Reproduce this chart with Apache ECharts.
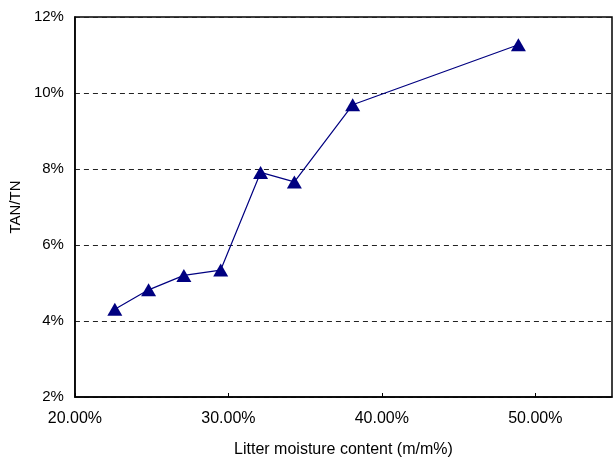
<!DOCTYPE html>
<html>
<head>
<meta charset="utf-8">
<script src="https://cdn.jsdelivr.net/npm/echarts@6/dist/echarts.min.js"></script>
<style>
  html, body { margin: 0; padding: 0; background: #fff; }
  #main { width: 613px; height: 463px; }
</style>
</head>
<body>
<div id="main"></div>
<script>
// moisture content (fraction) and TAN/TN ratio (fraction)
var moisture = [0.226, 0.248, 0.271, 0.295, 0.321, 0.343, 0.381, 0.489];
var tanTn = [0.0431, 0.0482, 0.0520, 0.0534, 0.0791, 0.0766, 0.0969, 0.1127];

var points = moisture.map(function (x, i) { return [x, tanTn[i]]; });

var chart = echarts.init(document.getElementById('main'));
chart.setOption({
  animation: false,
  textStyle: { fontFamily: 'Liberation Sans, Arial, sans-serif' },
  grid: {
    left: 74, right: 1, top: 17, bottom: 65,
    show: true,
    borderColor: '#000',
    borderWidth: 1.5
  },
  xAxis: {
    type: 'value',
    min: 0.2,
    max: 0.55,
    interval: 0.1,
    name: 'Litter moisture content (m/m%)',
    nameLocation: 'middle',
    nameGap: 45,
    nameTextStyle: { color: '#000', fontSize: 16 },
    axisLine: { lineStyle: { color: '#000', width: 1.5 } },
    axisTick: { inside: true, length: 4, lineStyle: { color: '#000' } },
    axisLabel: {
      color: '#000', fontSize: 16, margin: 14, showMaxLabel: false,
      formatter: function (v) { return (v * 100).toFixed(2) + '%'; }
    },
    splitLine: { show: false }
  },
  yAxis: {
    type: 'value',
    min: 0.02,
    max: 0.12,
    interval: 0.02,
    name: 'TAN/TN',
    nameLocation: 'middle',
    nameGap: 48,
    nameTextStyle: { color: '#000', fontSize: 15 },
    axisLine: { lineStyle: { color: '#000', width: 1.5 } },
    axisTick: { show: false },
    axisLabel: {
      color: '#000', fontSize: 15, margin: 11,
      formatter: function (v) { return Math.round(v * 100) + '%'; }
    },
    splitLine: { show: true, lineStyle: { color: '#222', type: [5, 4], width: 1.2 } }
  },
  series: [{
    type: 'line',
    data: points,
    symbol: 'triangle',
    symbolSize: [15, 13],
    lineStyle: { color: '#000080', width: 1.2 },
    itemStyle: { color: '#000080' }
  }]
});
</script>
</body>
</html>
